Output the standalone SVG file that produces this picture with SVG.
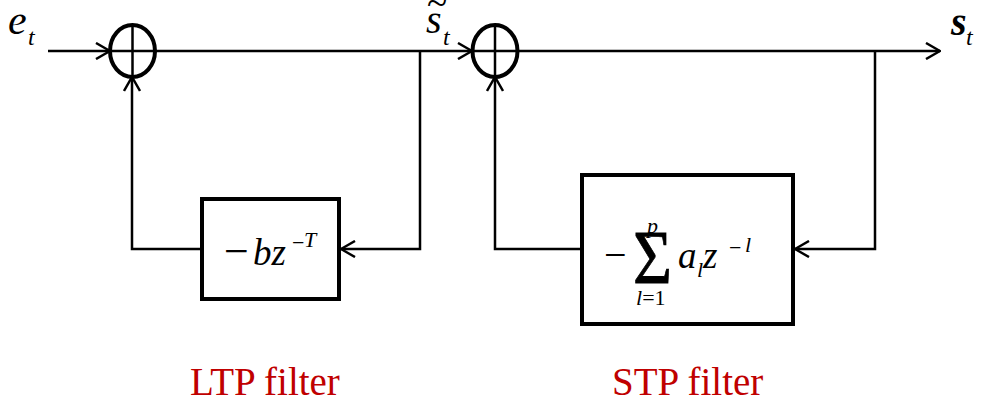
<svg xmlns="http://www.w3.org/2000/svg" width="981" height="403" viewBox="0 0 981 403">
<defs>
<style>
.ln{fill:none;stroke:#000;stroke-width:2.5}
.sum{fill:none;stroke:#000;stroke-width:4}
.box{fill:#fff;stroke:#000;stroke-width:4}
.m{font-family:"Liberation Serif","Times New Roman",serif;font-style:italic;fill:#000}
.r{font-family:"Liberation Serif","Times New Roman",serif;fill:#000}
.lab{font-family:"Liberation Serif","Times New Roman",serif;font-size:39px;fill:#C00000}
</style>
<marker id="ar" viewBox="0 0 16 18" refX="15" refY="9" markerWidth="16" markerHeight="18" markerUnits="userSpaceOnUse" orient="auto">
<polyline points="1,1 15,9 1,17" fill="none" stroke="#000" stroke-width="2.5"/>
</marker>
</defs>
<rect width="981" height="403" fill="#fff"/>
<g id="connectors">
<line class="ln" x1="48" y1="51" x2="110" y2="51" marker-end="url(#ar)"/>
<line class="ln" x1="155" y1="51" x2="472" y2="51" marker-end="url(#ar)"/>
<line class="ln" x1="518" y1="51" x2="940" y2="51" marker-end="url(#ar)"/>
<polyline class="ln" points="420,51 420,249 341,249" marker-end="url(#ar)"/>
<polyline class="ln" points="202,249 132,249 132,77" marker-end="url(#ar)"/>
<polyline class="ln" points="875,51 875,249 795,249" marker-end="url(#ar)"/>
<polyline class="ln" points="582,249 495,249 495,77" marker-end="url(#ar)"/>
</g>
<g id="sum1">
<ellipse class="sum" cx="132.5" cy="51" rx="22.5" ry="26"/>
<line class="ln" x1="110" y1="51" x2="155" y2="51"/>
<line class="ln" x1="132.5" y1="25" x2="132.5" y2="77"/>
</g>
<g id="sum2">
<ellipse class="sum" cx="495" cy="51" rx="22.5" ry="26"/>
<line class="ln" x1="472.5" y1="51" x2="517.5" y2="51"/>
<line class="ln" x1="495" y1="25" x2="495" y2="77"/>
</g>
<g id="ltp">
<rect class="box" x="202" y="199" width="137" height="100"/>
<text class="r" x="224" y="266" font-size="44">−</text>
<text class="m" x="253" y="265" font-size="37">bz</text>
<text class="r" x="292" y="250" font-size="22">−</text>
<text class="m" x="304" y="247" font-size="22">T</text>
</g>
<g id="stp">
<rect class="box" x="582" y="175" width="211" height="149"/>
<text class="r" x="604" y="268" font-size="40">−</text>
<text class="r" x="633" y="283" font-size="77" textLength="39" lengthAdjust="spacingAndGlyphs" stroke="#000" stroke-width="0.8">Σ</text>
<text class="m" x="647" y="233" font-size="22">p</text>
<text class="m" x="678" y="268" font-size="37">a</text>
<text class="m" x="697" y="277" font-size="22">l</text>
<text class="m" x="703" y="268" font-size="37">z</text>
<text class="r" x="729" y="255" font-size="22">−</text>
<text class="m" x="745" y="252" font-size="22">l</text>
<text class="m" x="636" y="305" font-size="22">l<tspan class="r" font-style="normal">=1</tspan></text>
</g>
<g id="labels">
<text class="m" x="8" y="34" font-size="42">e</text>
<text class="m" x="28" y="45" font-size="24">t</text>
<text class="m" x="426" y="33" font-size="40">s</text>
<text class="r" x="427" y="15" font-size="37">~</text>
<text class="m" x="443" y="45" font-size="24">t</text>
<text class="m" x="951" y="35" font-size="40" font-weight="bold">s</text>
<text class="m" x="966" y="45" font-size="24">t</text>
<text class="lab" x="190" y="395">LTP filter</text>
<text class="lab" x="612" y="395">STP filter</text>
</g>
</svg>
